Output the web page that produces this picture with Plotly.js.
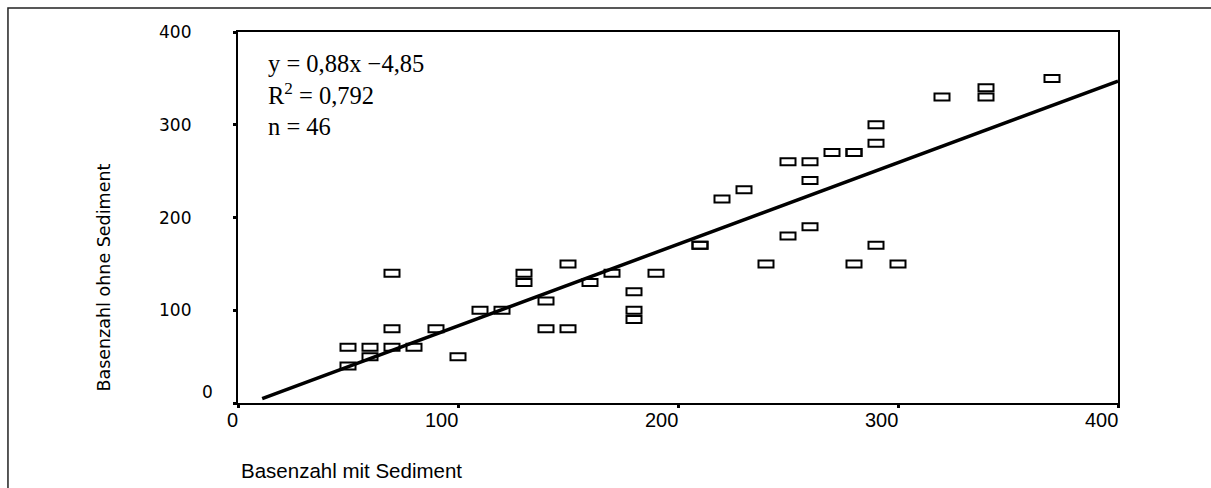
<!DOCTYPE html>
<html>
<head>
<meta charset="utf-8">
<script src="https://cdn.plot.ly/plotly-3.0.1.min.js"></script>
<style>
  html, body { margin: 0; padding: 0; background: #ffffff; }
  #chart { width: 1211px; height: 488px; }
</style>
</head>
<body>
<div id="chart"></div>
<script>
// ---- data ----
const xMit = [50, 50, 60, 60, 70, 70, 70, 80, 90, 100, 110, 120, 130, 130, 140, 140, 150, 150, 160, 170,
              180, 180, 180, 190, 210, 210, 220, 230, 240, 250, 250, 260, 260, 260, 270, 280, 280, 280,
              290, 290, 290, 300, 320, 340, 340, 370];
const yOhne = [60, 40, 60, 50, 140, 80, 60, 60, 80, 50, 100, 100, 140, 130, 110, 80, 150, 80, 130, 140,
               120, 100, 90, 140, 170, 170, 220, 230, 150, 180, 260, 190, 260, 240, 270, 150, 270, 270,
               170, 280, 300, 150, 330, 330, 340, 350];
const fitSlope = 0.88;
const fitIntercept = -4.85;
const fitX = [11, 400];
const xTickVals = [0, 100, 200, 300, 400];
const xTickText = ['0', '100', '200', '300', '400'];
const yTickVals = [0, 100, 200, 300, 400];
const yTickText = ['0', '100', '200', '300', '400'];
const statLines = ['y = 0,88x \u22124,85', 'R<sup>2</sup> = 0,792', 'n = 46'];
const xTitle = 'Basenzahl mit Sediment';
const yTitle = 'Basenzahl ohne Sediment';

// ---- traces ----
const fitY = fitX.map(x => fitSlope * x + fitIntercept);
const traces = [
  {
    type: 'scatter', mode: 'lines', x: fitX, y: fitY,
    line: { color: '#000000', width: 3.5 }, hoverinfo: 'skip', showlegend: false
  },
  {
    type: 'scatter', mode: 'markers', x: xMit, y: yOhne,
    marker: { size: 14, color: 'rgba(0,0,0,0)' }, showlegend: false
  }
];

// open rectangles as markers, anchored at data values
const markerShapes = xMit.map((x, i) => ({
  type: 'rect', xref: 'x', yref: 'y',
  xsizemode: 'pixel', ysizemode: 'pixel',
  xanchor: x, yanchor: yOhne[i],
  x0: -7.5, x1: 7.5, y0: -3.5, y1: 3.5,
  line: { color: '#000000', width: 2 },
  fillcolor: 'rgba(0,0,0,0)'
}));

// outer frame
const frameShape = {
  type: 'rect', xref: 'paper', yref: 'paper',
  x0: -0.2614, x1: 1.2, y0: -0.4, y1: 1.0647,
  line: { color: '#222222', width: 1.5 }, fillcolor: 'rgba(0,0,0,0)', layer: 'below'
};

const annotations = [];
// x tick labels, right aligned to tick
xTickVals.forEach((v, i) => {
  annotations.push({
    xref: 'x', yref: 'paper', x: v, y: 0, xanchor: 'right', yanchor: 'top',
    xshift: 2, yshift: -4, showarrow: false, text: xTickText[i],
    font: { family: 'Liberation Sans, Arial, sans-serif', size: 20, color: '#000000' }
  });
});
// y tick labels
yTickVals.forEach((v, i) => {
  const isZero = v === 0;
  annotations.push({
    xref: 'paper', yref: 'y', x: 0, y: v, xanchor: 'right', yanchor: 'middle',
    xshift: isZero ? -23 : -45, yshift: isZero ? 11 : 0, showarrow: false, text: yTickText[i],
    font: { family: 'DejaVu Sans, sans-serif', size: 17, color: '#000000' }
  });
});
// axis titles
annotations.push({
  xref: 'paper', yref: 'paper', x: 0, y: 0, xanchor: 'left', yanchor: 'middle',
  xshift: 1, yshift: -67, showarrow: false, text: xTitle,
  font: { family: 'Liberation Sans, Arial, sans-serif', size: 20.5, color: '#000000' }
});
annotations.push({
  xref: 'paper', yref: 'paper', x: 0, y: 0.338, xanchor: 'center', yanchor: 'middle',
  xshift: -134, showarrow: false, text: yTitle, textangle: -90,
  font: { family: 'DejaVu Sans, sans-serif', size: 17.5, color: '#000000' }
});
// regression statistics
const statY = [0.9164, 0.833, 0.7466];
statLines.forEach((t, i) => {
  annotations.push({
    xref: 'paper', yref: 'paper', x: 0.032, y: statY[i], xanchor: 'left', yanchor: 'middle',
    showarrow: false, text: t,
    font: { family: 'Liberation Serif, Times New Roman, serif', size: 24.5, color: '#000000' }
  });
});

const layout = {
  width: 1211, height: 488,
  margin: { l: 238, r: 93, t: 32, b: 85, pad: 0 },
  paper_bgcolor: '#ffffff', plot_bgcolor: '#ffffff',
  showlegend: false,
  xaxis: {
    range: [0, 400], tickvals: xTickVals, showticklabels: false,
    ticks: 'outside', ticklen: 3, tickwidth: 3, tickcolor: '#000000',
    showline: true, mirror: true, linecolor: '#000000', linewidth: 2,
    showgrid: false, zeroline: false, fixedrange: true
  },
  yaxis: {
    range: [0, 400], tickvals: yTickVals, showticklabels: false,
    ticks: 'outside', ticklen: 3, tickwidth: 3, tickcolor: '#000000',
    showline: true, mirror: true, linecolor: '#000000', linewidth: 2,
    showgrid: false, zeroline: false, fixedrange: true
  },
  shapes: [frameShape].concat(markerShapes),
  annotations: annotations
};

Plotly.newPlot('chart', traces, layout, { displayModeBar: false, staticPlot: true });
</script>
</body>
</html>
